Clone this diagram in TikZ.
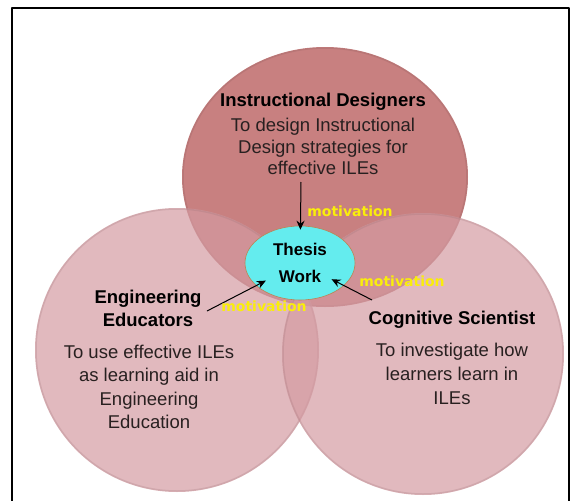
\documentclass[tikz,border=0pt]{standalone}
\usepackage{fontspec}
\setmainfont{Liberation Sans}
\newfontfamily\motfont{DejaVu Sans}
\usetikzlibrary{shapes.geometric,arrows.meta}
\definecolor{topred}{RGB}{200,128,128}
\definecolor{sidepink}{RGB}{212,155,162}
\definecolor{thesiscyan}{RGB}{100,236,238}
\definecolor{thesisrim}{RGB}{190,130,80}
\definecolor{motyellow}{RGB}{250,238,10}
\definecolor{bodygray}{RGB}{40,32,32}
\begin{document}
\begin{tikzpicture}[x=1pt,y=-1pt,>={Stealth[length=9pt,width=8pt]},line join=round,
  title/.style={font=\fontsize{18.5}{23}\selectfont\bfseries,align=center,inner sep=0pt},
  body/.style={font=\fontsize{18.5}{23}\selectfont,text=bodygray,align=center,inner sep=0pt},
  mot/.style={font=\motfont\fontsize{14}{16}\selectfont\bfseries,text=motyellow,inner sep=0pt},
  conn/.style={->,line width=1pt,black}]
	\useasboundingbox (0,0) rectangle (574,501);
	\clip (0,0) rectangle (574,501);
	\draw[line width=2pt] (12,8) rectangle (569,510);
	% the three circles
	\fill[topred] (325,177) ellipse (143pt and 130pt);
	\draw[topred!75!black,opacity=0.3,line width=1.5pt] (325,177) ellipse (142pt and 129pt);
	\fill[sidepink,opacity=0.7] (177,350) circle (142pt);
	\draw[sidepink!75!black,opacity=0.25,line width=1.5pt] (177,350) circle (141pt);
	\fill[sidepink,opacity=0.7] (423,354) circle (141pt);
	\draw[sidepink!75!black,opacity=0.25,line width=1.5pt] (423,354) circle (140pt);
	% texts
	\node[title] (id) at (323,102) {Instructional Designers};
	\node[body,font=\fontsize{18.5}{21.5}\selectfont] (idtext) at (323,146.5) {To design Instructional\\Design strategies for\\effective ILEs};
	\node[title] (ee) at (148,308.5) {Engineering\\Educators};
	\node[body,font=\fontsize{18.5}{23.3}\selectfont] (eetext) at (149,387) {To use effective ILEs\\as learning aid in\\Engineering\\Education};
	\node[title] (cs) at (452,320) {Cognitive Scientist};
	\node[body,font=\fontsize{18.5}{24}\selectfont] (cstext) at (452,374) {To investigate how\\learners learn in\\ILEs};
	\node[ellipse,fill=thesiscyan,draw=thesisrim,line width=0.6pt,minimum width=110pt,minimum height=74pt,
		inner sep=0pt,align=center,font=\fontsize{17}{27}\selectfont\bfseries] (thesis) at (300,263) {Thesis\\Work};
	% motivation arrows
	\coordinate (idtail) at (301,182);
	\coordinate (eetail) at (207,311);
	\coordinate (cstail) at (372,300);
	\draw[conn,shorten >=-4pt] (idtail) -- (thesis);
	\draw[conn,shorten >=-11pt] (eetail) -- (thesis);
	\draw[conn,shorten >=-14pt] (cstail) -- (thesis);
	\node[mot] (motid) at (350,211.5) {motivation};
	\node[mot] (motcs) at (402,281.5) {motivation};
	\node[mot] (motee) at (264,306.5) {motivation};
\end{tikzpicture}
\end{document}
